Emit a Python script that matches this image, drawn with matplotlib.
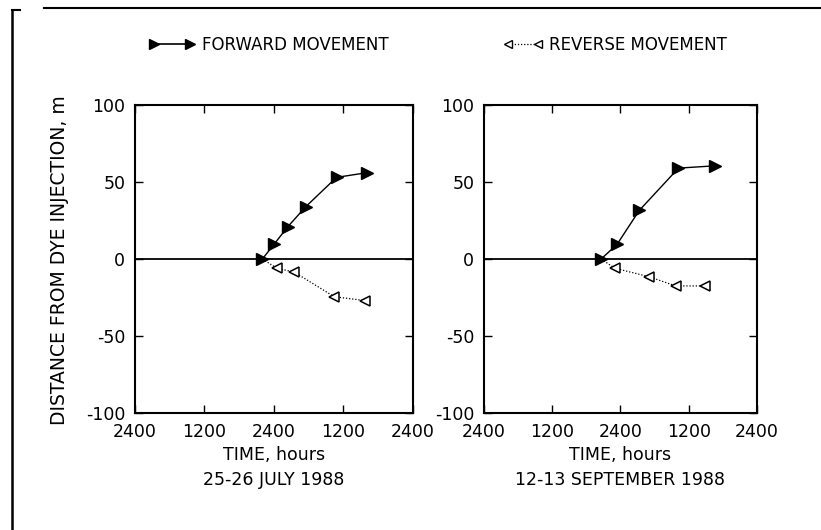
import matplotlib
matplotlib.use("Agg")
import matplotlib.pyplot as plt
from matplotlib.lines import Line2D

plt.rcParams['font.family'] = ['DejaVu Sans']

# Elapsed time (hours from 2400 on the first day) and distance from dye injection (m)
july_fwd_t = [22.0, 24.0, 26.4, 29.5, 34.8, 40.0]
july_fwd_d = [0.0, 9.5, 21.0, 34.0, 53.0, 56.0]
july_rev_t = [22.0, 24.5, 27.5, 34.4, 39.7]
july_rev_d = [0.0, -6.0, -8.5, -24.5, -27.0]

sept_fwd_t = [20.6, 23.4, 27.3, 34.2, 40.6]
sept_fwd_d = [0.0, 9.5, 31.5, 59.0, 60.5]
sept_rev_t = [20.6, 23.0, 29.0, 33.7, 38.9]
sept_rev_d = [0.0, -6.0, -11.5, -17.5, -17.5]

x_ticks = [0, 12, 24, 36, 48]
x_tick_labels = ['2400', '1200', '2400', '1200', '2400']
y_ticks = [-100, -50, 0, 50, 100]
panel_dates = ['25-26 JULY 1988', '12-13 SEPTEMBER 1988']

fig = plt.figure(figsize=(8.21, 5.30), dpi=100)
fs = 12

panels = [
    (fig.add_axes([0.1644, 0.2208, 0.3386, 0.5811]),
     july_fwd_t, july_fwd_d, july_rev_t, july_rev_d),
    (fig.add_axes([0.5895, 0.2208, 0.3325, 0.5811]),
     sept_fwd_t, sept_fwd_d, sept_rev_t, sept_rev_d),
]

for (ax, ft, fd, rt, rd), date in zip(panels, panel_dates):
    ax.axhline(0, color='black', lw=1.3, zorder=1)
    ax.plot(rt, rd, color='black', lw=0.9, ls=(0, (1, 1.5)), marker='<',
            markersize=6.5, markerfacecolor='white', markeredgecolor='black',
            markeredgewidth=1.1, markevery=list(range(1, len(rt))), zorder=2)
    ax.plot(ft, fd, color='black', lw=1.0, marker='>', markersize=8,
            markerfacecolor='black', markeredgecolor='black', zorder=3)
    ax.set_xlim(0, 48)
    ax.set_ylim(-100, 100)
    ax.set_xticks(x_ticks)
    ax.set_xticklabels(x_tick_labels)
    ax.set_yticks(y_ticks)
    ax.set_yticklabels([str(v) for v in y_ticks])
    ax.tick_params(direction='in', top=True, right=True, length=6, width=1.0,
                   labelsize=fs + 0.5, pad=7)
    for s in ax.spines.values():
        s.set_linewidth(1.5)
    ax.set_xlabel('TIME, hours\n' + date, fontsize=fs + 0.5, linespacing=1.45,
                  labelpad=4)

fig.text(0.072, 0.51, 'DISTANCE FROM DYE INJECTION, m', rotation=90,
         ha='center', va='center', fontsize=fs + 1.5)

# Legend entries across the top
fwd_handle = Line2D([], [], color='black', lw=1.2, marker='>', markersize=7,
                    markerfacecolor='black', markeredgecolor='black')
rev_handle = Line2D([], [], color='black', lw=0.9, ls=(0, (1, 1.5)), marker='<',
                    markersize=6, markerfacecolor='white',
                    markeredgecolor='black')
fig.legend(handles=[fwd_handle], labels=['FORWARD MOVEMENT'], numpoints=2,
           handlelength=2.8, frameon=False, fontsize=fs, loc='center left',
           bbox_to_anchor=(0.163, 0.915), handletextpad=0.4)
fig.legend(handles=[rev_handle], labels=['REVERSE MOVEMENT'], numpoints=2,
           handlelength=2.4, frameon=False, fontsize=fs, loc='center left',
           bbox_to_anchor=(0.595, 0.915), handletextpad=0.35)

# Page frame lines
fig.add_artist(Line2D([0.053, 1.0], [0.985, 0.985], color='black', lw=1.5,
                      transform=fig.transFigure))
fig.add_artist(Line2D([0.015, 0.024], [0.981, 0.981], color='black', lw=1.5,
                      transform=fig.transFigure))
fig.add_artist(Line2D([0.015, 0.015], [0.0, 0.981], color='black', lw=1.8,
                      transform=fig.transFigure))

fig.savefig('out.png', dpi=100)
